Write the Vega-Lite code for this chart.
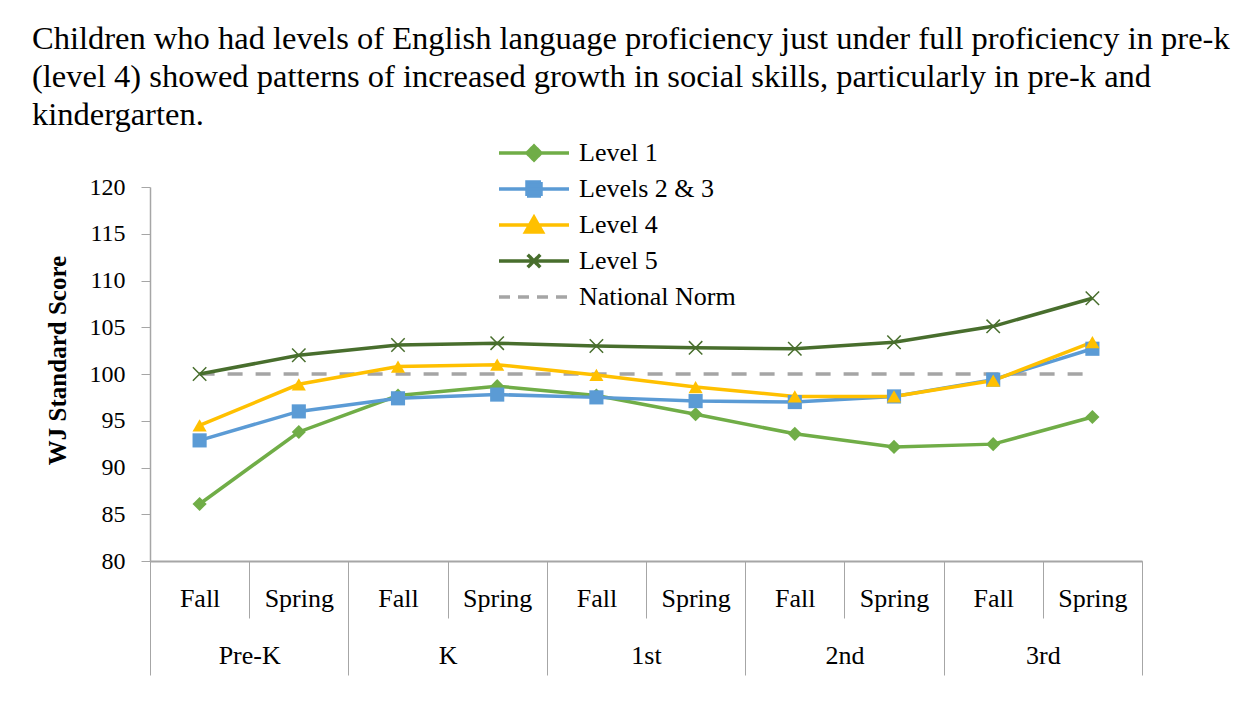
{
  "$schema": "https://vega.github.io/schema/vega-lite/v6.json",
  "width": 992,
  "height": 374,
  "autosize": {"type": "none"},
  "padding": {"left": 150, "top": 187, "right": 106, "bottom": 145},
  "background": "white",
  "config": {
    "view": {"stroke": null},
    "axis": {"grid": false, "labelFont": "Liberation Serif", "titleFont": "Liberation Serif", "labelColor": "black", "titleColor": "black"}
  },
  "title": {
    "text": ["Children who had levels of English language proficiency just under full proficiency in pre-k", "(level 4) showed patterns of increased growth in social skills, particularly in pre-k and", "kindergarten."],
    "anchor": "start",
    "frame": "group",
    "font": "Liberation Serif",
    "fontSize": 32.5,
    "fontWeight": "normal",
    "color": "black",
    "lineHeight": 38,
    "dx": -118,
    "offset": 9
  },
  "data": {
    "values": [
      {"s": "National Norm", "g": "Pre-K", "p": "Pre-K Fall", "v": 100},
      {"s": "National Norm", "g": "Pre-K", "p": "Pre-K Spring", "v": 100},
      {"s": "National Norm", "g": "K", "p": "K Fall", "v": 100},
      {"s": "National Norm", "g": "K", "p": "K Spring", "v": 100},
      {"s": "National Norm", "g": "1st", "p": "1st Fall", "v": 100},
      {"s": "National Norm", "g": "1st", "p": "1st Spring", "v": 100},
      {"s": "National Norm", "g": "2nd", "p": "2nd Fall", "v": 100},
      {"s": "National Norm", "g": "2nd", "p": "2nd Spring", "v": 100},
      {"s": "National Norm", "g": "3rd", "p": "3rd Fall", "v": 100},
      {"s": "National Norm", "g": "3rd", "p": "3rd Spring", "v": 100},
      {"s": "Level 1", "g": "Pre-K", "p": "Pre-K Fall", "v": 86.1},
      {"s": "Level 1", "g": "Pre-K", "p": "Pre-K Spring", "v": 93.8},
      {"s": "Level 1", "g": "K", "p": "K Fall", "v": 97.7},
      {"s": "Level 1", "g": "K", "p": "K Spring", "v": 98.7},
      {"s": "Level 1", "g": "1st", "p": "1st Fall", "v": 97.7},
      {"s": "Level 1", "g": "1st", "p": "1st Spring", "v": 95.7},
      {"s": "Level 1", "g": "2nd", "p": "2nd Fall", "v": 93.6},
      {"s": "Level 1", "g": "2nd", "p": "2nd Spring", "v": 92.2},
      {"s": "Level 1", "g": "3rd", "p": "3rd Fall", "v": 92.5},
      {"s": "Level 1", "g": "3rd", "p": "3rd Spring", "v": 95.4},
      {"s": "Levels 2 & 3", "g": "Pre-K", "p": "Pre-K Fall", "v": 92.9},
      {"s": "Levels 2 & 3", "g": "Pre-K", "p": "Pre-K Spring", "v": 96.0},
      {"s": "Levels 2 & 3", "g": "K", "p": "K Fall", "v": 97.4},
      {"s": "Levels 2 & 3", "g": "K", "p": "K Spring", "v": 97.8},
      {"s": "Levels 2 & 3", "g": "1st", "p": "1st Fall", "v": 97.5},
      {"s": "Levels 2 & 3", "g": "1st", "p": "1st Spring", "v": 97.1},
      {"s": "Levels 2 & 3", "g": "2nd", "p": "2nd Fall", "v": 97.0},
      {"s": "Levels 2 & 3", "g": "2nd", "p": "2nd Spring", "v": 97.6},
      {"s": "Levels 2 & 3", "g": "3rd", "p": "3rd Fall", "v": 99.4},
      {"s": "Levels 2 & 3", "g": "3rd", "p": "3rd Spring", "v": 102.7},
      {"s": "Level 4", "g": "Pre-K", "p": "Pre-K Fall", "v": 94.5},
      {"s": "Level 4", "g": "Pre-K", "p": "Pre-K Spring", "v": 98.9},
      {"s": "Level 4", "g": "K", "p": "K Fall", "v": 100.8},
      {"s": "Level 4", "g": "K", "p": "K Spring", "v": 101.0},
      {"s": "Level 4", "g": "1st", "p": "1st Fall", "v": 99.9},
      {"s": "Level 4", "g": "1st", "p": "1st Spring", "v": 98.6},
      {"s": "Level 4", "g": "2nd", "p": "2nd Fall", "v": 97.6},
      {"s": "Level 4", "g": "2nd", "p": "2nd Spring", "v": 97.6},
      {"s": "Level 4", "g": "3rd", "p": "3rd Fall", "v": 99.3},
      {"s": "Level 4", "g": "3rd", "p": "3rd Spring", "v": 103.4},
      {"s": "Level 5", "g": "Pre-K", "p": "Pre-K Fall", "v": 100.0},
      {"s": "Level 5", "g": "Pre-K", "p": "Pre-K Spring", "v": 102.0},
      {"s": "Level 5", "g": "K", "p": "K Fall", "v": 103.1},
      {"s": "Level 5", "g": "K", "p": "K Spring", "v": 103.3},
      {"s": "Level 5", "g": "1st", "p": "1st Fall", "v": 103.0},
      {"s": "Level 5", "g": "1st", "p": "1st Spring", "v": 102.8},
      {"s": "Level 5", "g": "2nd", "p": "2nd Fall", "v": 102.7},
      {"s": "Level 5", "g": "2nd", "p": "2nd Spring", "v": 103.4},
      {"s": "Level 5", "g": "3rd", "p": "3rd Fall", "v": 105.1},
      {"s": "Level 5", "g": "3rd", "p": "3rd Spring", "v": 108.1}
    ]
  },
  "layer": [
    {
      "encoding": {
        "x": {
          "field": "p",
          "type": "nominal",
          "sort": ["Pre-K Fall", "Pre-K Spring", "K Fall", "K Spring", "1st Fall", "1st Spring", "2nd Fall", "2nd Spring", "3rd Fall", "3rd Spring"],
          "scale": {"type": "band", "paddingInner": 0, "paddingOuter": 0},
          "bandPosition": 0.5,
          "axis": {
            "orient": "bottom",
            "title": null,
            "labelExpr": "split(datum.value, ' ')[1]",
            "labelAngle": 0,
            "labelFontSize": 26,
            "labelPadding": -33,
            "tickBand": "extent",
            "tickSize": 57,
            "tickColor": "#A6A6A6",
            "tickWidth": 1,
            "domainColor": "#A6A6A6",
            "domainWidth": 2
          }
        },
        "y": {
          "field": "v",
          "type": "quantitative",
          "scale": {"domain": [80, 120], "nice": false, "zero": false},
          "axis": {
            "title": "WJ Standard Score",
            "titleFontSize": 25,
            "titleFontWeight": "bold",
            "titleX": -80,
            "titleY": 173,
            "values": [80, 85, 90, 95, 100, 105, 110, 115, 120],
            "labelFontSize": 24,
            "labelPadding": 16,
            "tickSize": 9,
            "tickColor": "#A6A6A6",
            "domainColor": "#A6A6A6",
            "domainWidth": 1.5
          }
        },
        "color": {
          "field": "s",
          "type": "nominal",
          "scale": {
            "domain": ["Level 1", "Levels 2 & 3", "Level 4", "Level 5", "National Norm"],
            "range": ["#70AD47", "#5B9BD5", "#FFC000", "#486E2D", "#A5A5A5"]
          },
          "legend": {
            "title": null,
            "orient": "none",
            "legendX": 347,
            "legendY": -47,
            "direction": "vertical",
            "symbolSize": 4900,
            "symbolStrokeWidth": 3.5,
            "clipHeight": 26,
            "rowPadding": 10,
            "labelFont": "Liberation Serif",
            "labelFontSize": 26,
            "labelColor": "black",
            "labelOffset": 8,
            "labelLimit": 400,
            "encode": {
              "symbols": {
                "update": {
                  "shape": {"signal": "datum.value === 'Level 1' ? 'M-1,0L1,0M0,-0.2L0.2,0L0,0.2L-0.2,0Z' : datum.value === 'Levels 2 & 3' ? 'M-1,0L1,0M-0.2,-0.2L0.2,-0.2L0.2,0.2L-0.2,0.2Z' : datum.value === 'Level 4' ? 'M-1,0L1,0M0,-0.22L0.24,0.2L-0.24,0.2Z' : datum.value === 'Level 5' ? 'M-1,0L1,0M-0.18,-0.18L0.18,0.18M-0.18,0.18L0.18,-0.18' : 'M-1,0L1,0'"},
                  "fill": {"signal": "datum.value === 'Level 5' || datum.value === 'National Norm' ? 'transparent' : scale('color', datum.value)"},
                  "stroke": {"signal": "scale('color', datum.value)"},
                  "strokeDash": {"signal": "datum.value === 'National Norm' ? [11, 8] : [1, 0]"},
                  "opacity": {"value": 1}
                }
              }
            }
          }
        }
      },
      "layer": [
        {
          "transform": [{"filter": "datum.s === 'National Norm'"}],
          "mark": {"type": "line", "strokeWidth": 3.5, "strokeDash": [15, 13], "strokeCap": "butt"}
        },
        {
          "transform": [{"filter": "datum.s !== 'National Norm'"}],
          "mark": {"type": "line", "strokeWidth": 3.5}
        },
        {
          "transform": [{"filter": "datum.s !== 'National Norm' && datum.s !== 'Level 5'"}],
          "mark": {"type": "point", "filled": true, "opacity": 1, "size": 200},
          "encoding": {
            "shape": {
              "field": "s",
              "type": "nominal",
              "scale": {"domain": ["Level 1", "Levels 2 & 3", "Level 4"], "range": ["diamond", "square", "triangle-up"]},
              "legend": null
            }
          }
        },
        {
          "transform": [{"filter": "datum.s === 'Level 5'"}],
          "mark": {"type": "point", "filled": false, "opacity": 1, "size": 180, "strokeWidth": 1.5, "shape": "M-1,-1L1,1M-1,1L1,-1"}
        }
      ]
    },
    {
      "mark": {"type": "rule", "opacity": 0},
      "encoding": {
        "x": {
          "field": "g",
          "type": "nominal",
          "sort": ["Pre-K", "K", "1st", "2nd", "3rd"],
          "scale": {"type": "band", "paddingInner": 0, "paddingOuter": 0},
          "axis": {
            "orient": "bottom",
            "title": null,
            "labelAngle": 0,
            "labelFontSize": 26,
            "labelPadding": -33,
            "tickBand": "extent",
            "tickSize": 114,
            "tickColor": "#A6A6A6",
            "tickWidth": 1,
            "domain": false
          }
        }
      }
    }
  ],
  "resolve": {"scale": {"x": "independent"}}
}
